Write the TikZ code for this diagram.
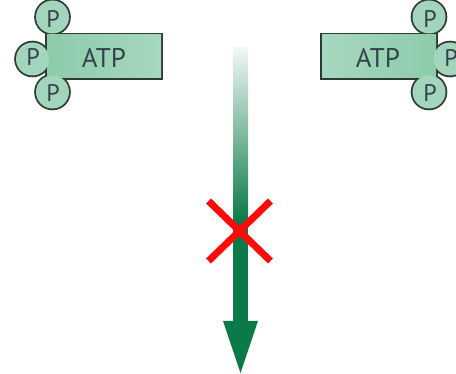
\documentclass[tikz,border=0pt]{standalone}
\usepackage{fontspec}
\setmainfont{PT Sans}
\definecolor{atpedge}{HTML}{2E3B35}
\definecolor{atpgreen}{HTML}{8CCBAA}
\definecolor{atplight}{HTML}{A6D8BF}
\definecolor{ballgreen}{HTML}{A3D5BC}
\definecolor{atptext}{HTML}{34434B}
\definecolor{arrowgreen}{HTML}{0B7A48}
\definecolor{crossred}{HTML}{FF0A0A}
\begin{document}
\begin{tikzpicture}[x=1pt,y=-1pt,
  rim/.style={draw=atpedge, line width=3.6pt},
  boxfill/.style={left color=atpgreen, middle color=white!88!atplight, right color=atplight},
  boxfillr/.style={left color=atplight, middle color=white!88!atplight, right color=atpgreen},
  ball/.style={fill=ballgreen},
  atplabel/.style={text=atptext, font=\fontsize{27}{27}\selectfont, inner sep=0pt},
  plabel/.style={text=atptext, font=\fontsize{24}{24}\selectfont, inner sep=0pt},
  crossline/.style={draw=crossred, line width=7pt}
]
\useasboundingbox (0,0) rectangle (456,374);

% ---- left ATP: outline first, fills on top leave only the outer rim
\draw[rim] (47,35) rectangle (161,78);
\foreach \p in {(52.5,17),(32.5,59),(52.5,92)} \draw[rim] \p circle[radius=16.5pt];
\shade[boxfill] (47,35) rectangle (161,78);
\foreach \p in {(52.5,17),(32.5,59),(52.5,92)} \fill[ball] \p circle[radius=16.5pt];
\node[atplabel] (atpL) at (104,57.5) {ATP};
\node[plabel] (pL1) at (53,19) {P};
\node[plabel] (pL2) at (33,57) {P};
\node[plabel] (pL3) at (53,93) {P};

% ---- right ATP (mirror image)
\draw[rim] (322,35) rectangle (436,78);
\foreach \p in {(429,17),(450,59),(429,92)} \draw[rim] \p circle[radius=16.5pt];
\shade[boxfillr] (322,35) rectangle (436,78);
\foreach \p in {(429,17),(450,59),(429,92)} \fill[ball] \p circle[radius=16.5pt];
\node[atplabel] (atpR) at (378,57.5) {ATP};
\node[plabel] (pR1) at (430,19) {P};
\node[plabel] (pR2) at (451,58) {P};
\node[plabel] (pR3) at (430,93) {P};

% ---- fading green arrow
\coordinate (arrowtop) at (240.5,48);
\coordinate (arrowbase) at (240.5,321);
\coordinate (arrowtip) at (240.5,373);
\shade[top color=arrowgreen!6, bottom color=arrowgreen]
  ([xshift=-7.5pt]arrowtop) rectangle ([xshift=7.5pt,yshift=100pt]arrowbase);
\fill[arrowgreen] ([xshift=-7.5pt,yshift=101pt]arrowbase) rectangle ([xshift=7.5pt,yshift=-1pt]arrowbase);
\fill[arrowgreen] ([xshift=-17.5pt]arrowbase) -- ([xshift=17.5pt]arrowbase) -- (arrowtip) -- cycle;

% ---- red cross over the arrow
\coordinate (xc) at (239.5,231);
\draw[crossline] ([shift={(-31,-30)}]xc) -- ([shift={(31,30)}]xc);
\draw[crossline] ([shift={(31,-30)}]xc) -- ([shift={(-31,30)}]xc);
\end{tikzpicture}
\end{document}
